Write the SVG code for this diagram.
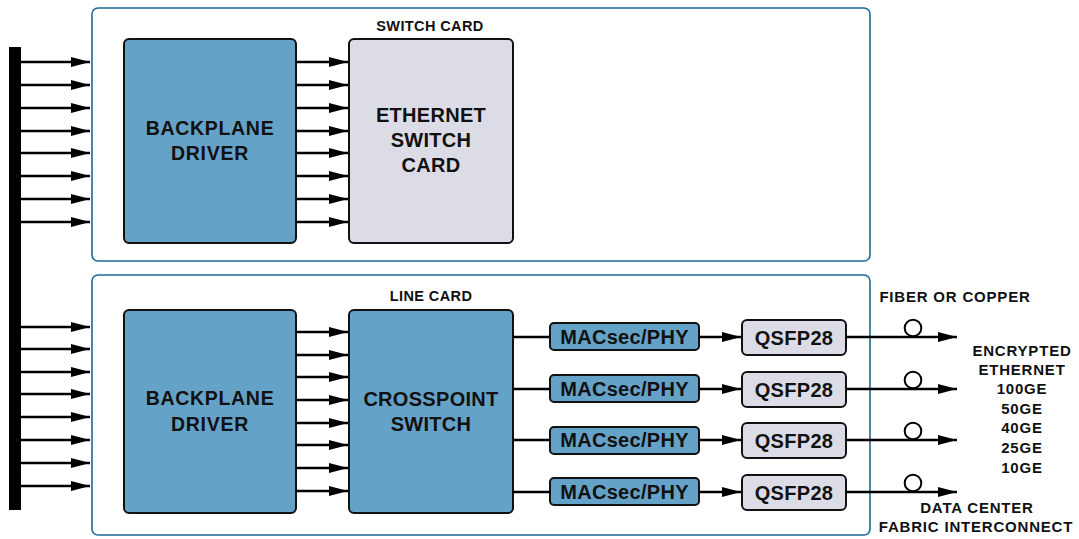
<svg xmlns="http://www.w3.org/2000/svg" width="1079" height="539" viewBox="0 0 1079 539">
<style>
.card{fill:#fff;stroke:#1b6b96;stroke-width:1.6}
.blue{fill:#65a2c8;stroke:#111;stroke-width:2}
.grey{fill:#dcdce6;stroke:#111;stroke-width:2}
.ln{stroke:#000;stroke-width:2.5;fill:none}
.arr{stroke:#000;stroke-width:2.5;fill:none;marker-end:url(#ah)}
text{font-family:"Liberation Sans",Arial,sans-serif;font-weight:bold;fill:#111;text-anchor:middle}
.big{font-size:19.5px;letter-spacing:0.7px}
.box{font-size:20px;letter-spacing:0.3px}
.lbl{font-size:14.5px;letter-spacing:0.4px}
.side{font-size:15px;letter-spacing:0.8px}
</style>
<defs>
<marker id="ah" markerUnits="userSpaceOnUse" markerWidth="20" markerHeight="11" refX="19" refY="5" orient="auto">
<path d="M0,0 L19,5 L0,10 z" fill="#000"/>
</marker>
</defs>
<g id="switch-card">
<rect class="card" x="92" y="8" width="778" height="253" rx="6"/>
<text class="lbl" x="430" y="31">SWITCH CARD</text>
</g>
<g id="line-card">
<rect class="card" x="92" y="275" width="778" height="260" rx="6"/>
<text class="lbl" x="431" y="301">LINE CARD</text>
</g>
<g id="backplane-bar">
<rect x="9" y="47" width="12" height="463" fill="#000"/>
</g>
<g id="backplane-driver-top">
<rect class="blue" x="124" y="39" width="172" height="204" rx="5"/>
<text class="big" x="210" y="135">BACKPLANE</text>
<text class="big" x="210" y="160">DRIVER</text>
</g>
<g id="ethernet-switch-card">
<rect class="grey" x="349" y="39" width="164" height="204" rx="5"/>
<text class="box" x="431" y="122">ETHERNET</text>
<text class="box" x="431" y="147">SWITCH</text>
<text class="box" x="431" y="172">CARD</text>
</g>
<g id="backplane-driver-bottom">
<rect class="blue" x="124" y="310" width="172" height="203" rx="5"/>
<text class="big" x="210" y="405">BACKPLANE</text>
<text class="big" x="210" y="431">DRIVER</text>
</g>
<g id="crosspoint-switch">
<rect class="blue" x="349" y="310" width="164" height="203" rx="5"/>
<text class="box" x="431" y="406">CROSSPOINT</text>
<text class="box" x="431" y="431">SWITCH</text>
</g>
<g id="macsec-1"><rect class="blue" x="550" y="323" width="149" height="27" rx="4"/><text class="box" x="624.5" y="344">MACsec/PHY</text></g>
<g id="macsec-2"><rect class="blue" x="550" y="375" width="149" height="27" rx="4"/><text class="box" x="624.5" y="396">MACsec/PHY</text></g>
<g id="macsec-3"><rect class="blue" x="550" y="427" width="149" height="27" rx="4"/><text class="box" x="624.5" y="447">MACsec/PHY</text></g>
<g id="macsec-4"><rect class="blue" x="550" y="478" width="149" height="27" rx="4"/><text class="box" x="624.5" y="499">MACsec/PHY</text></g>
<g id="qsfp-1"><rect class="grey" x="742" y="320" width="104" height="35" rx="5"/><text class="box" x="794" y="345">QSFP28</text></g>
<g id="qsfp-2"><rect class="grey" x="742" y="372" width="104" height="35" rx="5"/><text class="box" x="794" y="397">QSFP28</text></g>
<g id="qsfp-3"><rect class="grey" x="742" y="423" width="104" height="35" rx="5"/><text class="box" x="794" y="448">QSFP28</text></g>
<g id="qsfp-4"><rect class="grey" x="742" y="475" width="104" height="35" rx="5"/><text class="box" x="794" y="500">QSFP28</text></g>
<g id="connectors">
<line class="arr" x1="21" y1="62" x2="90" y2="62"/>
<line class="arr" x1="21" y1="85" x2="90" y2="85"/>
<line class="arr" x1="21" y1="108" x2="90" y2="108"/>
<line class="arr" x1="21" y1="131" x2="90" y2="131"/>
<line class="arr" x1="21" y1="153" x2="90" y2="153"/>
<line class="arr" x1="21" y1="176" x2="90" y2="176"/>
<line class="arr" x1="21" y1="199" x2="90" y2="199"/>
<line class="arr" x1="21" y1="222" x2="90" y2="222"/>
<line class="arr" x1="296" y1="62" x2="348" y2="62"/>
<line class="arr" x1="296" y1="85" x2="348" y2="85"/>
<line class="arr" x1="296" y1="108" x2="348" y2="108"/>
<line class="arr" x1="296" y1="131" x2="348" y2="131"/>
<line class="arr" x1="296" y1="153" x2="348" y2="153"/>
<line class="arr" x1="296" y1="176" x2="348" y2="176"/>
<line class="arr" x1="296" y1="199" x2="348" y2="199"/>
<line class="arr" x1="296" y1="222" x2="348" y2="222"/>
<line class="arr" x1="21" y1="327" x2="90" y2="327"/>
<line class="arr" x1="21" y1="349" x2="90" y2="349"/>
<line class="arr" x1="21" y1="372" x2="90" y2="372"/>
<line class="arr" x1="21" y1="394" x2="90" y2="394"/>
<line class="arr" x1="21" y1="417" x2="90" y2="417"/>
<line class="arr" x1="21" y1="440" x2="90" y2="440"/>
<line class="arr" x1="21" y1="463" x2="90" y2="463"/>
<line class="arr" x1="21" y1="486" x2="90" y2="486"/>
<line class="arr" x1="296" y1="332" x2="348" y2="332"/>
<line class="arr" x1="296" y1="355" x2="348" y2="355"/>
<line class="arr" x1="296" y1="377" x2="348" y2="377"/>
<line class="arr" x1="296" y1="400" x2="348" y2="400"/>
<line class="arr" x1="296" y1="423" x2="348" y2="423"/>
<line class="arr" x1="296" y1="445" x2="348" y2="445"/>
<line class="arr" x1="296" y1="468" x2="348" y2="468"/>
<line class="arr" x1="296" y1="491" x2="348" y2="491"/>
<line class="ln" x1="513" y1="337" x2="550" y2="337"/>
<line class="ln" x1="513" y1="389" x2="550" y2="389"/>
<line class="ln" x1="513" y1="440" x2="550" y2="440"/>
<line class="ln" x1="513" y1="492" x2="550" y2="492"/>
<line class="arr" x1="699" y1="337" x2="741" y2="337"/>
<line class="arr" x1="699" y1="389" x2="741" y2="389"/>
<line class="arr" x1="699" y1="440" x2="741" y2="440"/>
<line class="arr" x1="699" y1="492" x2="741" y2="492"/>
<line class="arr" x1="846" y1="337" x2="957" y2="337"/>
<line class="arr" x1="846" y1="389" x2="957" y2="389"/>
<line class="arr" x1="846" y1="440" x2="957" y2="440"/>
<line class="arr" x1="846" y1="492" x2="957" y2="492"/>
<circle cx="913" cy="328" r="8.3" fill="#fff" stroke="#000" stroke-width="2"/>
<circle cx="913" cy="380" r="8.3" fill="#fff" stroke="#000" stroke-width="2"/>
<circle cx="913" cy="431" r="8.3" fill="#fff" stroke="#000" stroke-width="2"/>
<circle cx="913" cy="483" r="8.3" fill="#fff" stroke="#000" stroke-width="2"/>
</g>
<g id="labels">
<text class="side" x="955" y="302">FIBER OR COPPER</text>
<text class="side" x="1022" y="356">ENCRYPTED</text>
<text class="side" x="1022" y="375">ETHERNET</text>
<text class="side" x="1022" y="394">100GE</text>
<text class="side" x="1022" y="414">50GE</text>
<text class="side" x="1022" y="433">40GE</text>
<text class="side" x="1022" y="453">25GE</text>
<text class="side" x="1022" y="473">10GE</text>
<text class="side" x="977" y="513">DATA CENTER</text>
<text class="side" x="976" y="532">FABRIC INTERCONNECT</text>
</g>
</svg>
